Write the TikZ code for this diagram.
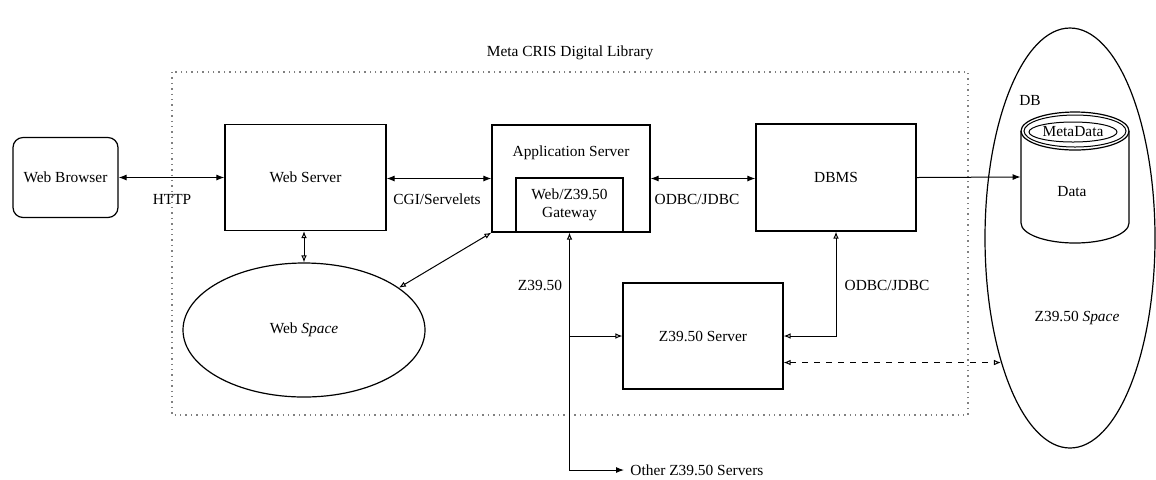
\documentclass[tikz,border=0pt]{standalone}
\usepackage{fontspec}
\setmainfont{Liberation Serif}
\usetikzlibrary{arrows.meta,calc,shapes.geometric}
\tikzset{
  FA/.tip={Latex[length=4pt,width=3pt]},
  OA/.tip={Latex[open,length=3.5pt,width=2.8pt]}
}
\begin{document}
\begin{tikzpicture}[x=0.5pt,y=-0.5pt,
  every node/.style={font=\fontsize{7.7}{9}\selectfont, inner sep=0pt},
  box/.style={draw, line width=0.6pt, rectangle},
  conn/.style={line width=0.5pt}
]
\useasboundingbox (0,0) rectangle (1156,479);
% frame
\draw[dotted, line width=0.7pt, gray] (172,72) rectangle (968,415);
\node (title) at (570,53) {Meta CRIS Digital Library};
% boxes
\node[box, rounded corners=5pt, minimum width=52.5pt, minimum height=40pt] (browser) at (65.5,177.5) {Web Browser};
\node[box, minimum width=80.5pt, minimum height=53pt] (webserver) at (305.5,177.5) {Web Server};
\node[box, minimum width=79pt, minimum height=53.5pt] (appserver) at (571,178.5) {};
\node (applbl) at (571,153) {Application Server};
\node[box, minimum width=53.5pt, minimum height=27pt, align=center] (gateway) at (569.5,205) {Web/Z39.50\\Gateway};
\node[box, minimum width=80pt, minimum height=53.5pt] (dbms) at (836,177.5) {DBMS};
\node[box, minimum width=80pt, minimum height=53pt] (zserver) at (703,336) {Z39.50 Server};
\node[draw, ellipse, line width=0.6pt, minimum width=121pt, minimum height=67pt] (webspace) at (304,330) {Web \textit{Space}};
\node[draw, ellipse, line width=0.6pt, minimum width=85pt, minimum height=210pt] (zspace) at (1070,238) {};
\node (zspacelbl) at (1077,318) {Z39.50 \textit{Space}};
% cylinder
\node[minimum width=54pt, minimum height=46pt] (cyl) at (1075,177) {};
\node (datalbl) at (1072,192) {Data};
\draw[line width=0.6pt] (1021,131) -- (1021,223) arc[start angle=180, end angle=0, x radius=54, y radius=20] -- (1129,131);
\draw[line width=0.6pt] (1075,131) ellipse [x radius=54, y radius=19];
\draw[line width=0.5pt] (1075,131) ellipse [x radius=51, y radius=16];
\node[draw, ellipse, line width=0.5pt, minimum width=44pt, minimum height=10pt] (meta) at (1073,132) {MetaData};
\node (dblbl) at (1030,100) {DB};
% connectors
\draw[conn, FA-FA] (browser.east) -- (webserver.west);
\node (http) at (172,199) {HTTP};
\draw[conn, FA-FA] (webserver.east |- appserver.west) -- (appserver.west);
\node (cgi) at (437,199) {CGI/Servelets};
\draw[conn, FA-FA] (appserver.east) -- (dbms.west |- appserver.east);
\node (odbc1) at (697,199) {ODBC/JDBC};
\draw[conn, -FA] (dbms.east) -- (cyl.west);
\draw[conn, OA-OA] (webspace.north |- webserver.south) -- (webspace.north);
\draw[conn, OA-OA] (appserver.south west) -- (webspace.24);
\node (other) [anchor=west] at (630,470) {Other Z39.50 Servers};
\coordinate (zbranch) at (gateway.south |- zserver.west);
\draw[conn, OA-FA] (gateway.south) -- (gateway.south |- other.west) -- ([xshift=-3pt]other.west);
\draw[conn, -OA] (zbranch) -- (zserver.west);
\node (z3950) at (540,285) {Z39.50};
\draw[conn, OA-OA] (zserver.east) -- (dbms.south |- zserver.east) -- (dbms.south);
\node (odbc2) at (887,285) {ODBC/JDBC};
\draw[conn, dashed, OA-OA] (zserver.east |- zspace.241.5) -- (zspace.241.5);
\end{tikzpicture}
\end{document}
